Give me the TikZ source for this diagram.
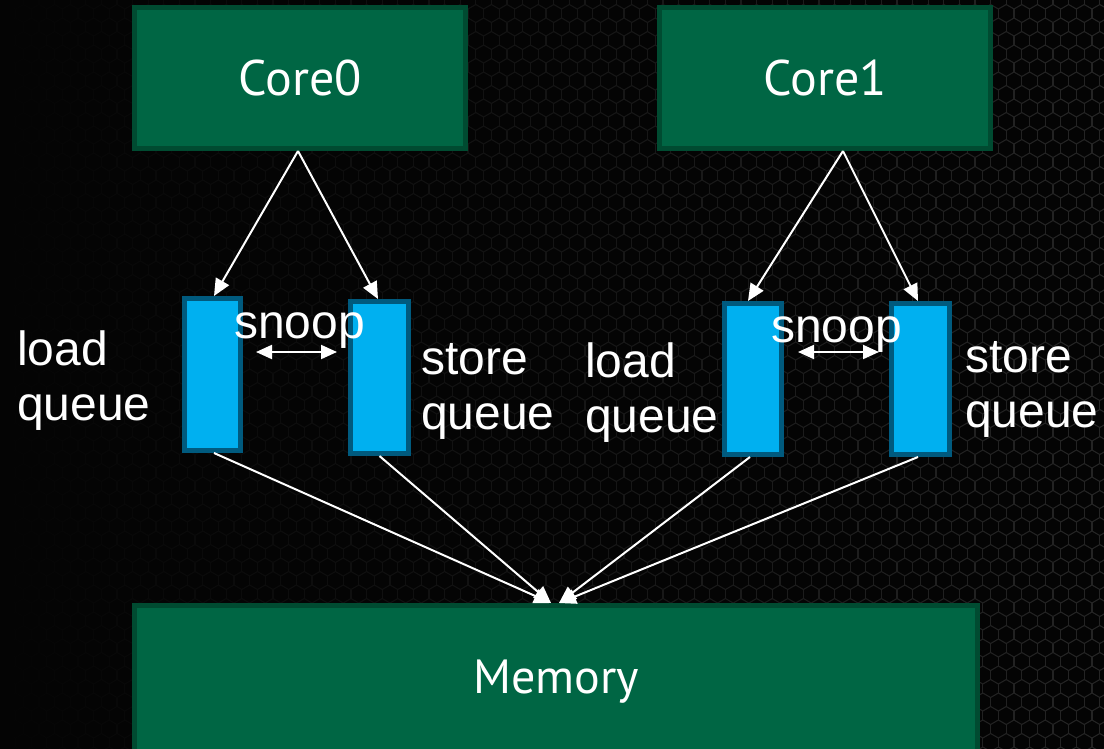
\documentclass[tikz,border=0pt]{standalone}
\usepackage{fontspec}
\setmainfont{Liberation Sans}
\newfontfamily\boxfont{PT Sans}
\usetikzlibrary{arrows.meta,fadings}

\definecolor{bg}{HTML}{040404}
\definecolor{hexgrey}{HTML}{262626}
\definecolor{unitgreen}{HTML}{006644}
\definecolor{unitedge}{HTML}{004B31}
\definecolor{queuefill}{HTML}{00B0F0}
\definecolor{queueedge}{HTML}{005A7E}

% darkens the honeycomb towards the left side
\tikzfading[name=darkwest, left color=transparent!0, right color=transparent!100]

\begin{document}
\begin{tikzpicture}[x=1pt,y=-1pt,
  unit/.style={draw=unitedge, fill=unitgreen, line width=5pt, text=white,
    font=\boxfont\fontsize{50}{56}\selectfont, inner sep=0pt},
  queuebox/.style={draw=queueedge, fill=queuefill, line width=5pt, inner sep=0pt},
  qlabel/.style={text=white, font=\fontsize{48}{55}\selectfont, align=left,
    anchor=base west, inner sep=0pt},
  link/.style={draw=white, line width=2pt, -{Triangle[length=17pt,width=15pt]}},
  snoopline/.style={draw=white, line width=2pt,
    {Triangle[length=16pt,width=14pt]}-{Triangle[length=16pt,width=14pt]}},
  hexstroke/.style={draw=hexgrey, line width=1.1pt},
]
\path[use as bounding box] (0,0) rectangle (1104,748);
\clip (0,0) rectangle (1104,748);
\fill[bg] (-20,-20) rectangle (1124,768);

% honeycomb background
\foreach \j in {0,...,56} {
  \pgfmathsetmacro\xs{-23.4+7.8*mod(\j,2)}
  \pgfmathsetmacro\cy{13.5*\j}
  \draw[hexstroke] (\xs,\cy-4.5) \foreach \k in {1,...,73}{ -- ++(7.8,-4.5) -- ++(7.8,4.5)};
  \draw[hexstroke] \foreach \i in {0,...,72}{ (\xs+15.6*\i,\cy-4.5) -- ++(0,9)};
}
\fill[bg, path fading=darkwest] (-20,-20) rectangle (1124,768);

% processing units and memory
\node[unit, minimum width=331pt, minimum height=141pt] (core0) at (300,78) {Core0};
\node[unit, minimum width=331pt, minimum height=141pt] (core1) at (825,78) {Core1};
\node[unit, minimum width=843pt, minimum height=152pt,
  font=\boxfont\fontsize{48}{56}\selectfont] (mem) at (556,681.5) {Memory};

% load and store queues
\node[queuebox, minimum width=56pt, minimum height=152pt] (lq0) at (212.5,374.5) {};
\node[queuebox, minimum width=58pt, minimum height=152pt] (sq0) at (379.5,377.5) {};
\node[queuebox, minimum width=57pt, minimum height=151pt] (lq1) at (753,379) {};
\node[queuebox, minimum width=58pt, minimum height=151pt] (sq1) at (920.5,379) {};

% core to queues
\draw[link] ([xshift=-2pt]core0.south) -- ([xshift=1.5pt]lq0.north);
\draw[link] ([xshift=-2pt]core0.south) -- ([xshift=-1.5pt]sq0.north);
\draw[link] ([xshift=18pt]core1.south) -- ([xshift=-5pt]lq1.north);
\draw[link] ([xshift=18pt]core1.south) -- ([xshift=-2.5pt]sq1.north);

% queues to memory
\draw[link] ([xshift=1.5pt]lq0.south) -- ([xshift=-5pt]mem.north);
\draw[link] (sq0.south) -- ([xshift=-5pt]mem.north);
\draw[link] ([xshift=-3pt]lq1.south) -- ([xshift=3pt]mem.north);
\draw[link] ([xshift=-2.5pt]sq1.south) -- ([xshift=3pt]mem.north);

% snoop paths between the queues
\coordinate (sn0a) at (256,352);
\coordinate (sn0b) at (337,352);
\coordinate (sn1a) at (798,352);
\coordinate (sn1b) at (879,352);
\draw[snoopline] (sn0a) -- (sn0b);
\draw[snoopline] (sn1a) -- (sn1b);

% labels (anchored on the baseline of the second line)
\node[qlabel] (snoop0) at (234,338) {snoop};
\node[qlabel] (snoop1) at (771,342) {snoop};
\node[qlabel] (lq0txt) at (17,420) {load\\queue};
\node[qlabel] (sq0txt) at (421,429) {store\\queue};
\node[qlabel] (lq1txt) at (585,432) {load\\queue};
\node[qlabel] (sq1txt) at (965,427) {store\\queue};
\end{tikzpicture}
\end{document}
